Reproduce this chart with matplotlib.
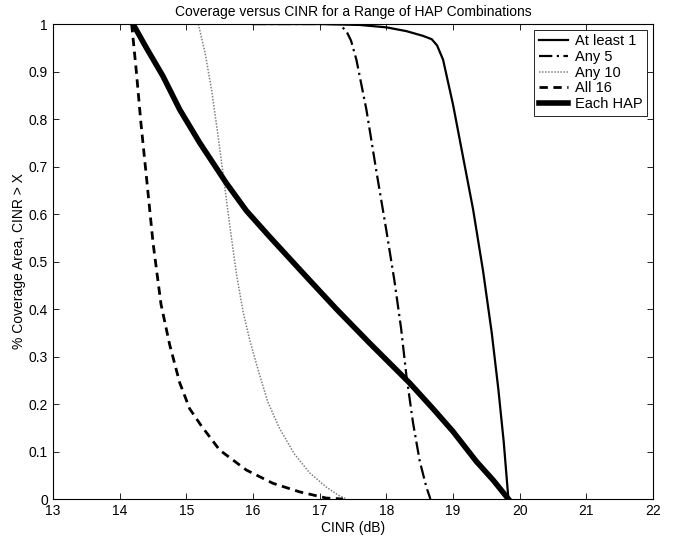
import matplotlib
matplotlib.use("Agg")
import matplotlib.pyplot as plt

plt.rcParams['font.family'] = ['Liberation Sans', 'DejaVu Sans']

# At least 1
x_least1 = [16.0, 17.0, 17.6, 18.0, 18.3, 18.55, 18.68, 18.76, 18.85, 19.0, 19.15, 19.3, 19.45, 19.58, 19.68, 19.76, 19.83]
y_least1 = [1.0, 1.0, 0.998, 0.993, 0.985, 0.975, 0.968, 0.955, 0.925, 0.83, 0.72, 0.61, 0.48, 0.35, 0.23, 0.12, 0.0]

# Any 5
x_any5 = [16.0, 17.29, 17.40, 17.47, 17.55, 17.70, 17.85, 18.0, 18.12, 18.22, 18.30, 18.40, 18.50, 18.60, 18.66]
y_any5 = [1.0, 1.0, 0.985, 0.965, 0.925, 0.82, 0.69, 0.565, 0.46, 0.36, 0.26, 0.16, 0.08, 0.025, 0.0]

# Any 10
x_any10 = [15.18, 15.28, 15.38, 15.47, 15.56, 15.65, 15.75, 15.85, 15.95, 16.08, 16.22, 16.40, 16.62, 16.85, 17.10, 17.28, 17.40]
y_any10 = [1.0, 0.94, 0.86, 0.77, 0.675, 0.577, 0.475, 0.395, 0.335, 0.27, 0.205, 0.148, 0.095, 0.055, 0.025, 0.008, 0.0]

# All 16
x_all16 = [14.18, 14.25, 14.32, 14.40, 14.50, 14.62, 14.75, 14.90, 15.05, 15.22, 15.50, 15.90, 16.30, 16.70, 17.10, 17.35]
y_all16 = [1.0, 0.90, 0.79, 0.68, 0.54, 0.41, 0.325, 0.245, 0.19, 0.155, 0.103, 0.061, 0.033, 0.015, 0.002, 0.0]

# Each HAP
x_each = [14.2, 14.4, 14.65, 14.9, 15.2, 15.6, 15.9, 16.25, 16.8, 17.25, 17.75, 18.35, 18.7, 19.0, 19.35, 19.6, 19.83]
y_each = [1.0, 0.95, 0.89, 0.82, 0.75, 0.665, 0.607, 0.552, 0.468, 0.40, 0.328, 0.244, 0.19, 0.142, 0.079, 0.04, 0.0]

x_ticks = [13, 14, 15, 16, 17, 18, 19, 20, 21, 22]
y_ticks = [0, 0.1, 0.2, 0.3, 0.4, 0.5, 0.6, 0.7, 0.8, 0.9, 1]
y_ticklabels = ['0', '0.1', '0.2', '0.3', '0.4', '0.5', '0.6', '0.7', '0.8', '0.9', '1']

fig = plt.figure(figsize=(6.89, 5.42), dpi=100)
ax = fig.add_axes([0.0769, 0.0793, 0.871, 0.8764])

ax.plot(x_least1, y_least1, color='black', lw=1.6, ls='-', label='At least 1')
ax.plot(x_any5, y_any5, color='black', lw=1.6, ls='-.', label='Any 5', dashes=(6, 2, 1, 2))
ax.plot(x_any10, y_any10, color='#808080', lw=1.1, ls=':', label='Any 10', dashes=(1, 1))
ax.plot(x_all16, y_all16, color='black', lw=2.0, ls='--', label='All 16', dashes=(3, 2))
ax.plot(x_each, y_each, color='black', lw=4.0, ls='-', label='Each HAP', solid_joinstyle='round')

ax.set_xlim(13, 22)
ax.set_ylim(0, 1)
ax.set_xticks(x_ticks)
ax.set_yticks(y_ticks)
ax.set_yticklabels(y_ticklabels)
ax.tick_params(direction='in', top=True, right=True, labelsize=10, length=4, width=0.6)
for s in ax.spines.values():
    s.set_linewidth(0.8)

ax.set_title('Coverage versus CINR for a Range of HAP Combinations', fontsize=10, pad=6)
ax.set_xlabel('CINR (dB)', fontsize=10, labelpad=2)
ax.set_ylabel('% Coverage Area, CINR > X', fontsize=10, labelpad=2)

leg = ax.legend(loc='upper right', fontsize=10.5, labelspacing=0.12, handlelength=2.0,
                handletextpad=0.5, borderpad=0.3, fancybox=False, framealpha=1,
                edgecolor='black', borderaxespad=0.4)
leg.get_frame().set_linewidth(0.6)

fig.savefig('out.png', dpi=100)
